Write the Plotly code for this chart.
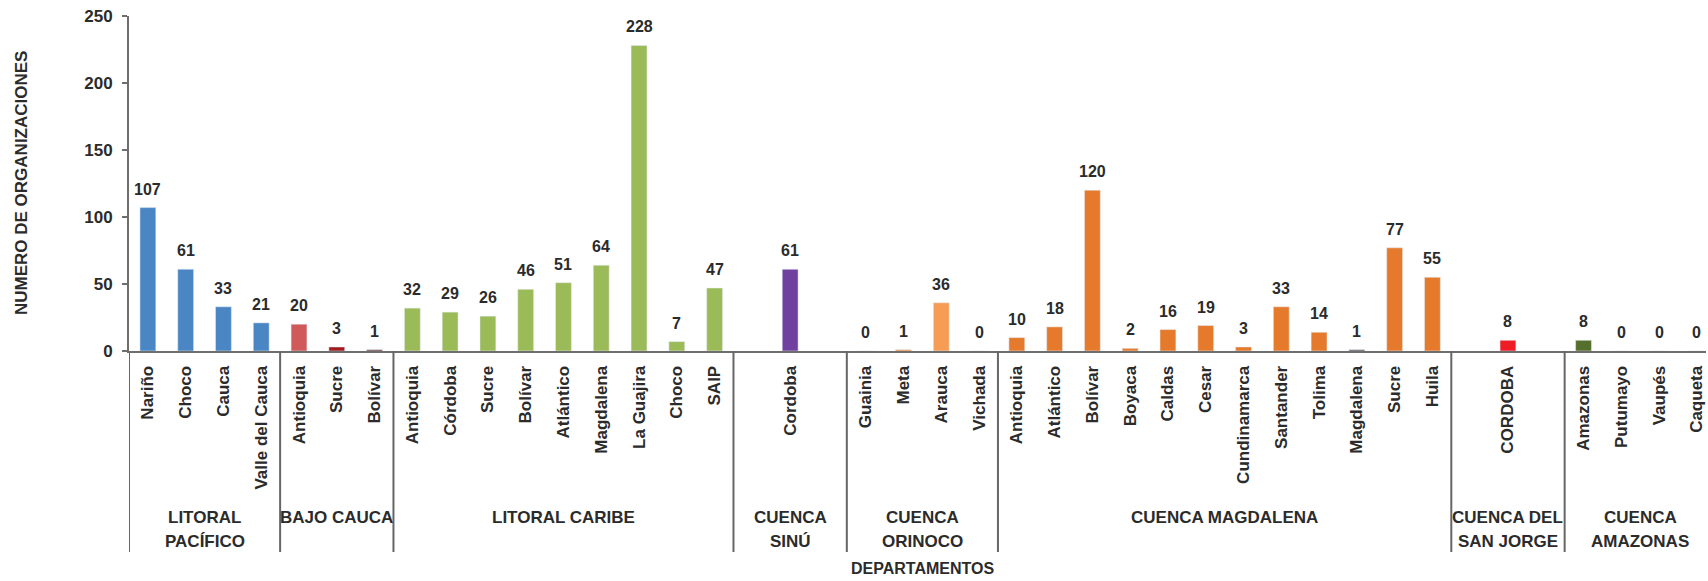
import plotly.graph_objects as go

# cuencas (grupos) y sus departamentos
grupos = ["LITORAL<br>PACÍFICO", "BAJO CAUCA", "LITORAL CARIBE", "CUENCA<br>SINÚ",
          "CUENCA<br>ORINOCO", "CUENCA MAGDALENA", "CUENCA DEL<br>SAN JORGE", "CUENCA<br>AMAZONAS"]

deptos_pacifico = ["Nariño", "Choco", "Cauca", "Valle del Cauca"]
deptos_bajo_cauca = ["Antioquia", "Sucre", "Bolívar"]
deptos_caribe = ["Antioquia", "Córdoba", "Sucre", "Bolívar", "Atlántico", "Magdalena",
                 "La Guajira", "Choco", "SAIP"]
deptos_sinu = ["", "Cordoba", ""]
deptos_orinoco = ["Guainia", "Meta", "Arauca", "Vichada"]
deptos_magdalena = ["Antioquia", "Atlántico", "Bolívar", "Boyaca", "Caldas", "Cesar",
                    "Cundinamarca", "Santander", "Tolima", "Magdalena", "Sucre", "Huila"]
deptos_san_jorge = ["", "CORDOBA", ""]
deptos_amazonas = ["Amazonas", "Putumayo", "Vaupés", "Caqueta"]

val_pacifico = [107, 61, 33, 21]
val_bajo_cauca = [20, 3, 1]
val_caribe = [32, 29, 26, 46, 51, 64, 228, 7, 47]
val_sinu = [None, 61, None]
val_orinoco = [0, 1, 36, 0]
val_magdalena = [10, 18, 120, 2, 16, 19, 3, 33, 14, 1, 77, 55]
val_san_jorge = [None, 8, None]
val_amazonas = [8, 0, 0, 0]

deptos = [deptos_pacifico, deptos_bajo_cauca, deptos_caribe, deptos_sinu,
          deptos_orinoco, deptos_magdalena, deptos_san_jorge, deptos_amazonas]
valores = [val_pacifico, val_bajo_cauca, val_caribe, val_sinu,
           val_orinoco, val_magdalena, val_san_jorge, val_amazonas]

# estilo
colores_grupo = ["#4a86c4", "#d05a5a", "#9bbb59", "#7040a0",
                 "#f0883a", "#e67a2c", "#ee1c25", "#55702c"]
colores_especiales = {("BAJO CAUCA", 1): "#a01c1c", ("BAJO CAUCA", 2): "#6b3a3a",
                      ("CUENCA<br>ORINOCO", 2): "#f59d55", ("CUENCA MAGDALENA", 9): "#555555"}

TXT = "#2b2b2b"
FONT = "Liberation Sans, Arial, sans-serif"
W, H = 1708, 581
L, R, T, B = 129, 2, 16, 230
plot_h = H - T - B
plot_w = W - L - R


def py(pix):
    # pixel y -> paper y
    return (H - B - pix) / plot_h


def px(pix):
    # pixel x -> paper x
    return (pix - L) / plot_w


xs, ys, labels, colors = [], [], [], []
bordes = [-0.5]
i = 0
for g, (cats, vals) in enumerate(zip(deptos, valores)):
    for k, (c, v) in enumerate(zip(cats, vals)):
        xs.append(i)
        ys.append(v)
        labels.append(c)
        colors.append(colores_especiales.get((grupos[g], k), colores_grupo[g]))
        i += 1
    bordes.append(i - 0.5)

x_max = -0.5 + plot_w / 37.78

fig = go.Figure()
fig.add_trace(go.Bar(x=xs, y=ys, marker_color=colors, width=0.42, showlegend=False))

# etiquetas de valores
for x, v in zip(xs, ys):
    if v is None:
        continue
    fig.add_annotation(x=x, y=v, text=str(v), showarrow=False, xanchor="center",
                       yanchor="bottom", yshift=8,
                       font=dict(size=16, color=TXT, family=FONT, weight="bold"))

# separadores de grupos
for b in bordes[:-1]:
    fig.add_shape(type="line", xref="x", yref="paper", x0=b, x1=b, y0=0, y1=py(552),
                  line=dict(color="#666666", width=2))

# nombres de grupos (una anotación por renglón)
start = -0.5
for g, b in zip(grupos, bordes[1:]):
    for n, linea in enumerate(g.split("<br>")):
        fig.add_annotation(x=(start + b) / 2, y=py(517 + 24 * n), xref="x", yref="paper",
                           text=linea, showarrow=False, xanchor="center", yanchor="middle",
                           font=dict(size=17, color=TXT, family=FONT, weight="bold"))
    start = b

fig.add_annotation(x=px(922), y=py(568), xref="paper", yref="paper",
                   text="DEPARTAMENTOS", showarrow=False, xanchor="center", yanchor="middle",
                   font=dict(size=16, color=TXT, family=FONT, weight="bold"))
fig.add_annotation(x=px(21), y=py(183), xref="paper", yref="paper",
                   text="NUMERO DE ORGANIZACIONES", showarrow=False, textangle=-90,
                   xanchor="center", yanchor="middle",
                   font=dict(size=17, color=TXT, family=FONT, weight="bold"))

fig.update_xaxes(range=[-0.5, x_max], tickmode="array",
                 tickvals=[x for x, c in zip(xs, labels) if c],
                 ticktext=[c for c in labels if c], tickangle=-90, ticks="",
                 showline=True, linecolor="#6e6e6e", linewidth=2, showgrid=False,
                 zeroline=False, ticklabelstandoff=6, automargin=False,
                 ticklabeloverflow="allow",
                 tickfont=dict(size=17, color=TXT, family=FONT, weight="bold"))
fig.update_yaxes(range=[0, 250], dtick=50, ticks="outside", ticklen=5, tickwidth=2,
                 tickcolor="#6e6e6e", showline=True, linecolor="#6e6e6e", linewidth=2,
                 showgrid=False, zeroline=False, ticklabelstandoff=6, automargin=False,
                 tickfont=dict(size=17, color=TXT, family=FONT, weight="bold"))

fig.update_layout(width=W, height=H, margin=dict(l=L, r=R, t=T, b=B),
                  plot_bgcolor="white", paper_bgcolor="white", bargap=0.58)

fig.write_html("out.html", config={"displayModeBar": False},
               post_script="document.body.style.margin='0';")
